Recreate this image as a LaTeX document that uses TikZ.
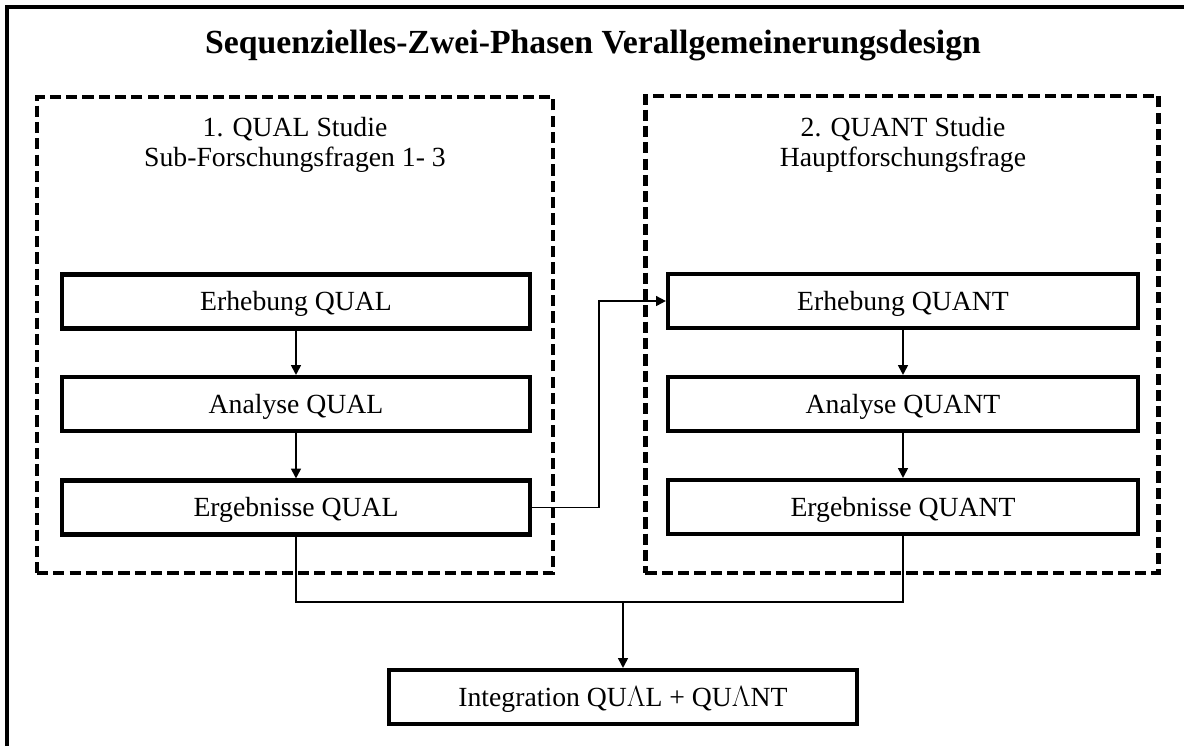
\documentclass[tikz,border=0pt]{standalone}
\usepackage{fontspec}
\setmainfont{Liberation Serif}
\usetikzlibrary{arrows.meta}
\begin{document}
\begin{tikzpicture}[x=0.025cm,y=-0.025cm,
  frame/.style={line width=3.2pt},
  phase/.style={draw,line width=3.3pt,dash pattern=on 8pt off 3.6pt,inner sep=0pt},
  stepbox/.style={draw,line width=2.9pt,minimum width=11.7cm,minimum height=1.35cm,inner sep=0pt,
    font=\fontsize{19.7}{23}\selectfont,text height=13pt,text depth=0pt},
  lbl/.style={anchor=base,font=\fontsize{19.7}{23}\selectfont,inner sep=0pt},
  conn/.style={line width=1.3pt},
  arr/.style={conn,-{Triangle[length=7pt,width=7pt]}}]
\useasboundingbox (0,0) rectangle (1184,746);
% outer frame (cropped at right and bottom)
\draw[frame] (7,746) -- (7,7) -- (1184,7);
\node[anchor=base,font=\fontsize{24}{28}\selectfont\bfseries,inner sep=0pt] (title) at (593,53) {Sequenzielles-Zwei-Phasen Verallgemeinerungsdesign};
% phase frames
\node[phase,minimum width=12.9cm,minimum height=11.9cm] (qualframe) at (295,335) {};
\node[phase,minimum width=12.825cm,minimum height=11.925cm] (quantframe) at (902,334.5) {};
\node[lbl] (qualt1) at (295,136) {1. QUAL Studie};
\node[lbl] (qualt2) at (295,166) {Sub-Forschungsfragen 1- 3};
\node[lbl] (quantt1) at (903,136) {2. QUANT Studie};
\node[lbl] (quantt2) at (903,166) {Hauptforschungsfrage};
% steps
\node[stepbox] (erhql) at (296,301.5) {Erhebung QUAL};
\node[stepbox] (anaql) at (296,404) {Analyse QUAL};
\node[stepbox] (ergql) at (296,507.5) {Ergebnisse QUAL};
\node[stepbox,minimum width=11.75cm] (erhqt) at (903,301) {Erhebung QUANT};
\node[stepbox,minimum width=11.75cm] (anaqt) at (903,404) {Analyse QUANT};
\node[stepbox,minimum width=11.75cm] (ergqt) at (903,507) {Ergebnisse QUANT};
\node[stepbox] (integ) at (623,697) {Integration QU$\Lambda$L + QU$\Lambda$NT};
% connectors
\draw[arr] (erhql) -- (anaql);
\draw[arr] (anaql) -- (ergql);
\draw[arr] (erhqt) -- (anaqt);
\draw[arr] (anaqt) -- (ergqt);
\draw[arr] (ergql.east) -- (599,507.5) |- (erhqt.west);
\coordinate (joinl) at (296,602);
\coordinate (joinr) at (903,602);
\coordinate (joinm) at (623,602);
\draw[conn] (ergql.south) -- (joinl) -- (joinr) -- (ergqt.south);
\draw[arr] (joinm) -- (integ.north);
\end{tikzpicture}
\end{document}
